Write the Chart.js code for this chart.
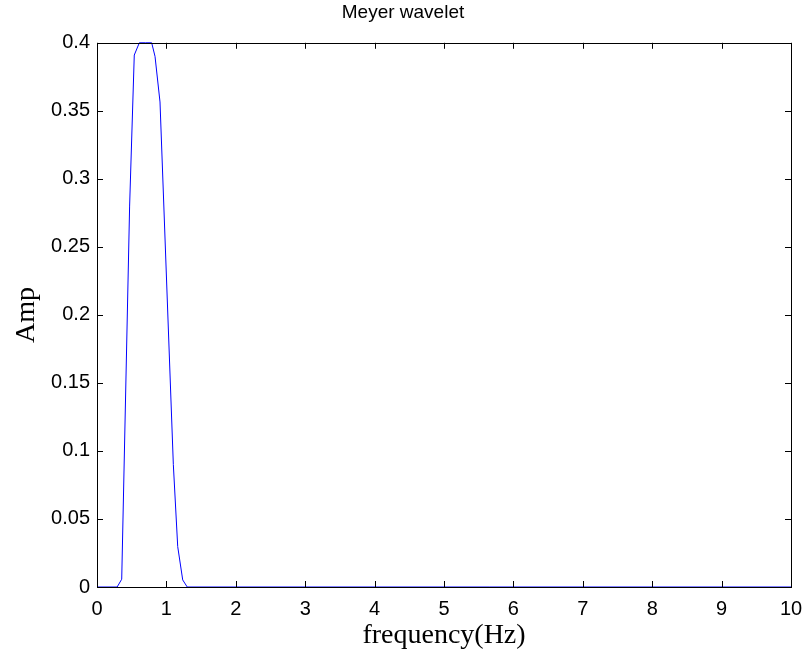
<!DOCTYPE html>
<html>
<head>
<meta charset="utf-8">
<script src="https://cdn.jsdelivr.net/npm/chart.js@4"></script>
<style>
  html, body { margin: 0; padding: 0; background: #fff; }
  #wrap { width: 806px; height: 659px; }
</style>
</head>
<body>
<div id="wrap"><canvas id="meyer-chart" width="806" height="659"></canvas></div>
<script>
// Meyer wavelet spectrum
const freqHz = [0, 0.29, 0.356, 0.47, 0.537, 0.61, 0.70, 0.788, 0.836, 0.908, 1.10, 1.163, 1.235, 1.30, 10];
const amp    = [0, 0,    0.0057, 0.28, 0.391, 0.40, 0.40, 0.40,  0.390, 0.3565, 0.09, 0.0297, 0.0052, 0, 0];

const xTicks = [0, 1, 2, 3, 4, 5, 6, 7, 8, 9, 10];
const yTicks = [0, 0.05, 0.1, 0.15, 0.2, 0.25, 0.3, 0.35, 0.4];

const tickFont = { family: '"Liberation Sans", Arial, sans-serif', size: 20 };
const labelFont = { family: '"Liberation Serif", "Times New Roman", serif', size: 28 };

// MATLAB style box with inward ticks on all four sides
const boxPlugin = {
    id: 'matlabBox',
    afterDatasetsDraw(chart) {
        const { ctx, chartArea: a, scales } = chart;
        const len = 6;
        ctx.save();
        ctx.strokeStyle = '#000';
        ctx.lineWidth = 1;
        ctx.beginPath();
        xTicks.forEach(v => {
            const px = Math.round(scales.x.getPixelForValue(v)) + 0.5;
            ctx.moveTo(px, a.bottom); ctx.lineTo(px, a.bottom - len);
            ctx.moveTo(px, a.top); ctx.lineTo(px, a.top + len);
        });
        yTicks.forEach(v => {
            const py = Math.round(scales.y.getPixelForValue(v)) + 0.5;
            ctx.moveTo(a.left, py); ctx.lineTo(a.left + len, py);
            ctx.moveTo(a.right, py); ctx.lineTo(a.right - len, py);
        });
        ctx.stroke();
        ctx.strokeRect(Math.round(a.left) + 0.5, Math.round(a.top) + 0.5,
                       Math.round(a.right - a.left), Math.round(a.bottom - a.top));
        ctx.restore();
    }
};

const ctx = document.getElementById('meyer-chart').getContext('2d');
new Chart(ctx, {
    type: 'line',
    data: {
        datasets: [{
            label: 'Meyer wavelet',
            data: freqHz.map((f, i) => ({ x: f, y: amp[i] })),
            borderColor: '#0000ff',
            borderWidth: 1,
            pointRadius: 0,
            fill: false,
            tension: 0,
            clip: 2
        }]
    },
    options: {
        responsive: false,
        animation: false,
        layout: { padding: 0 },
        plugins: {
            legend: { display: false },
            tooltip: { enabled: false },
            title: {
                display: true,
                text: 'Meyer wavelet',
                color: '#000',
                font: { family: '"Liberation Sans", Arial, sans-serif', size: 19, weight: 'normal' },
                padding: { top: 1, bottom: 19 }
            }
        },
        scales: {
            x: {
                type: 'linear',
                min: 0,
                max: 10,
                afterBuildTicks: s => { s.ticks = xTicks.map(v => ({ value: v })); },
                afterFit: s => { s.height = 72; s.paddingLeft = 0; s.paddingRight = 15; },
                grid: { display: false, drawTicks: false },
                border: { display: false },
                ticks: { color: '#000', font: tickFont, padding: 10, maxRotation: 0 },
                title: { display: true, text: 'frequency(Hz)', color: '#000', font: labelFont, padding: { top: 0, bottom: 7 } }
            },
            y: {
                type: 'linear',
                min: 0,
                max: 0.4,
                afterBuildTicks: s => { s.ticks = yTicks.map(v => ({ value: v })); },
                afterFit: s => { s.width = 97; },
                grid: { display: false, drawTicks: false },
                border: { display: false },
                ticks: { color: '#000', font: tickFont, padding: 7, callback: v => String(parseFloat(v.toFixed(2))) },
                title: { display: true, text: 'Amp', color: '#000', font: labelFont, padding: { top: 10, bottom: 0 } }
            }
        }
    },
    plugins: [boxPlugin]
});
</script>
</body>
</html>
